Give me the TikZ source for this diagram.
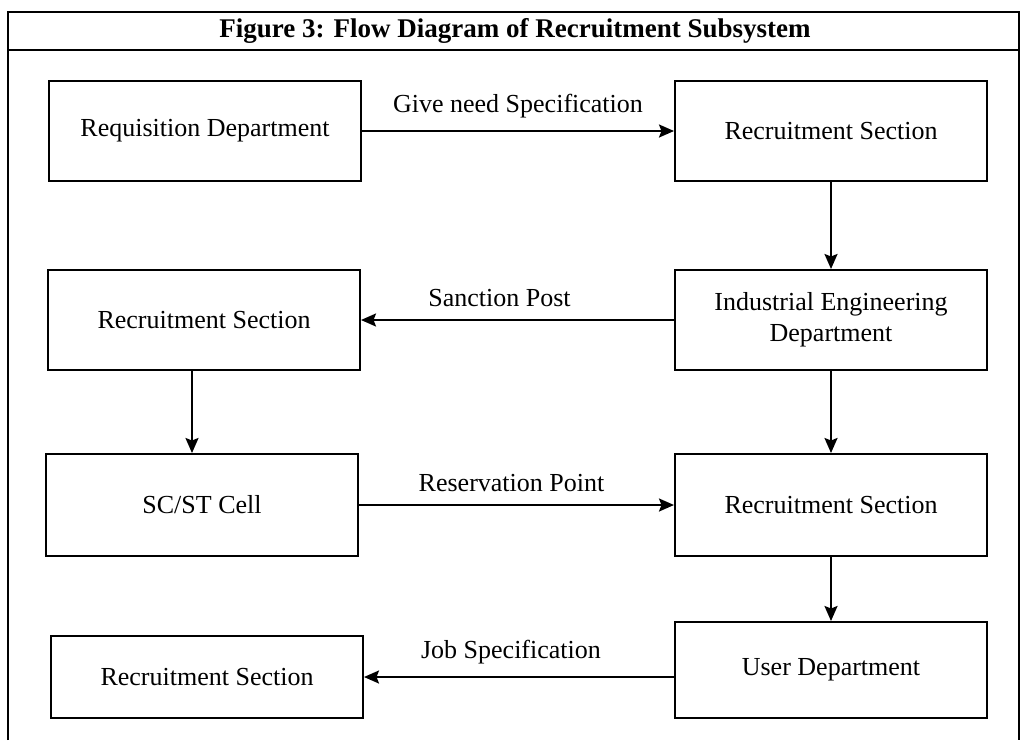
\documentclass[tikz,border=0pt]{standalone}
\usepackage{fontspec}
\setmainfont{Liberation Serif}
\usetikzlibrary{arrows.meta}
\begin{document}
\begin{tikzpicture}[x=1pt,y=-1pt,
  box/.style={draw, line width=2pt, minimum width=312pt, align=center,
    inner sep=0pt, font=\fontsize{26}{31}\selectfont},
  flow/.style={line width=2pt, -{Stealth[length=15pt,width=13pt,inset=2.5pt]}},
  lbl/.style={font=\fontsize{26}{31}\selectfont, inner sep=0pt},
  frame/.style={line width=1.6pt}]
\useasboundingbox (0,0) rectangle (1023,740);
% outer frame and title band
\draw[frame] (8,740) -- (8,12) -- (1019,12) -- (1019,740);
\draw[frame] (8,50) -- (1019,50);
\node[font=\fontsize{27}{32}\selectfont\bfseries] (title) at (515,31)
  {Figure 3: Flow Diagram of Recruitment Subsystem};
% boxes
\node[box, minimum height=100pt] (req) at (205,131) {Requisition Department};
\node[box, minimum height=100pt] (rs1) at (831,131) {Recruitment Section};
\node[box, minimum height=100pt] (rs2) at (204,320) {Recruitment Section};
\node[box, minimum height=100pt] (ied) at (831,320) {Industrial Engineering\\Department};
\node[box, minimum height=102pt] (scst) at (202,505) {SC/ST Cell};
\node[box, minimum height=102pt] (rs3) at (831,505) {Recruitment Section};
\node[box, minimum height=82pt] (rs4) at (207,677) {Recruitment Section};
\node[box, minimum height=96pt] (user) at (831,670) {User Department};
% connectors
\draw[flow] (req.east) -- node[lbl, above=12pt] (l1) {Give need Specification} (rs1.west);
\draw[flow] (rs1.south) -- (ied.north);
\draw[flow] (ied.west) -- node[lbl, above=12pt, xshift=-18pt] (l2) {Sanction Post} (rs2.east);
\draw[flow] ([xshift=-12pt]rs2.south) -- ([xshift=-10pt]scst.north);
\draw[flow] (scst.east) -- node[lbl, above=12pt, xshift=-5pt] (l3) {Reservation Point} (rs3.west);
\draw[flow] (ied.south) -- (rs3.north);
\draw[flow] (rs3.south) -- (user.north);
\draw[flow] (user.west |- rs4.east) -- node[lbl, above=12pt, xshift=-8pt] (l4) {Job Specification} (rs4.east);
\end{tikzpicture}
\end{document}
